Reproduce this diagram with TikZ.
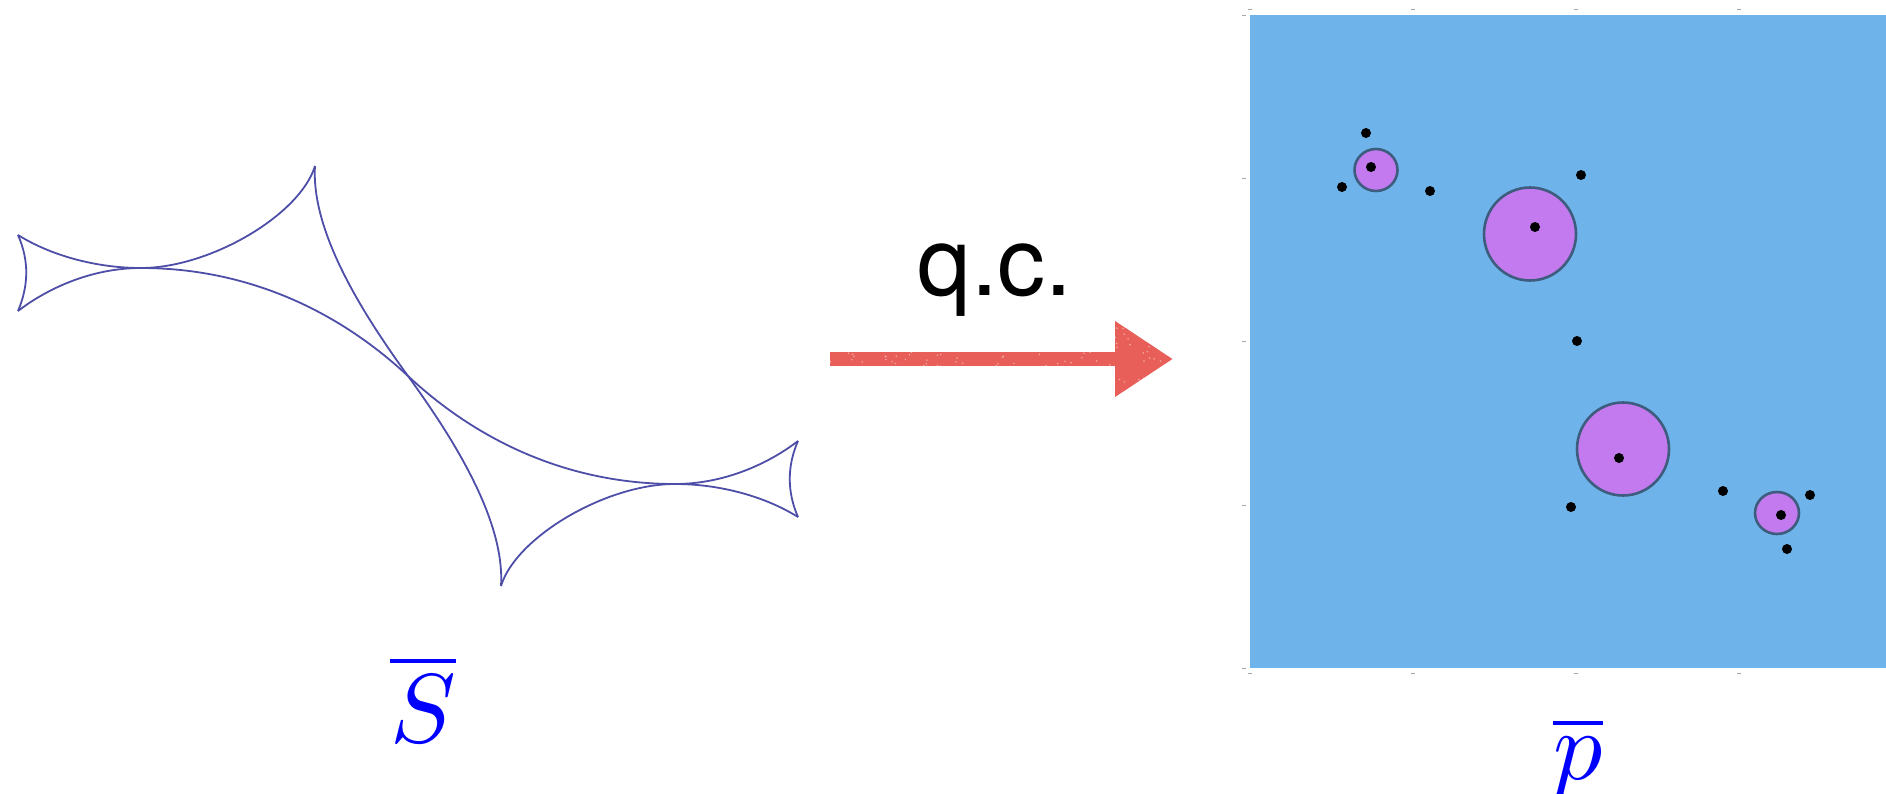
\documentclass[tikz,border=0pt]{standalone}
\usepackage{graphicx}
\usepackage{fontspec}
\newfontfamily\qcfont{TeX Gyre Heros}
\usetikzlibrary{arrows.meta}
\definecolor{curveblue}{RGB}{78,78,168}
\definecolor{planeblue}{RGB}{110,180,234}
\definecolor{diskpurple}{RGB}{194,122,238}
\definecolor{diskedge}{RGB}{62,92,126}
\definecolor{qcred}{RGB}{232,94,88}
\definecolor{labelblue}{RGB}{0,0,255}
\tikzset{
  sketchline/.style={draw=curveblue, line width=0.9pt},
  disk/.style={fill=diskpurple, draw=diskedge, line width=1.3pt},
  blackpt/.style={circle, fill=black, inner sep=0pt, minimum size=5pt},
  tickmark/.style={draw=black!35, line width=0.4pt},
  qcarrow/.style={draw=qcred, line width=7pt, -{Triangle[length=29pt,width=36pt]}},
  speck/.style={fill=white, opacity=0.45},
}
\begin{document}
\begin{tikzpicture}[x=0.5pt,y=-0.5pt]
\useasboundingbox (0,0) rectangle (1886,793);
\clip (0,0) rectangle (1886,793);

% ---- left curve figure ----
\draw[sketchline] (18,235) .. controls (50,255) and (95,268) .. (141,268)
  .. controls (210,268) and (300,215) .. (315,166);
\draw[sketchline] (315,166) .. controls (311,230) and (360,310) .. (408,376)
  .. controls (456,442) and (505,522) .. (501,586);
\draw[sketchline] (18,311) .. controls (48,288) and (92,268) .. (141,268)
  .. controls (241,268) and (333,306) .. (408,376)
  .. controls (483,446) and (575,484) .. (675,484)
  .. controls (724,484) and (768,464) .. (798,441);
\draw[sketchline] (798,517) .. controls (766,497) and (721,484) .. (675,484)
  .. controls (606,484) and (516,537) .. (501,586);
\draw[sketchline] (18,235) .. controls (29,260) and (29,285) .. (18,311);
\draw[sketchline] (798,441) .. controls (787,466) and (787,492) .. (798,517);

\node[anchor=base, text=labelblue, inner sep=0pt] (Slabel) at (423,742) {\scalebox{4.9}{$\overline{S}$}};

% ---- arrow ----
\node[anchor=base, inner sep=0pt] (qc) at (995,295) {\qcfont\fontsize{48}{56}\selectfont q.c.};
\coordinate (arrowstart) at (830,359);
\coordinate (arrowtip) at (1173,359);
\draw[qcarrow] (arrowstart) -- (arrowtip);
\pgfmathsetseed{4242}
\begin{scope}
  \clip (830,352) rectangle (1118,366) (1115,323) -- (1173,359) -- (1115,395) -- cycle;
  \foreach \i in {1,...,260} {
    \fill[speck] ({830+rnd*343},{322+rnd*74}) circle (0.9);
  }
\end{scope}

% ---- right plane ----
\fill[planeblue] (1250,15) rectangle (1886,668);
\foreach \x in {1250,1413,1576,1739} {
  \draw[tickmark] (\x-2,9) -- (\x+2,9);
  \draw[tickmark] (\x-2,673) -- (\x+2,673);
}
\foreach \y in {15,178,341,505,668} {
  \draw[tickmark] (1242,\y) -- (1246,\y);
}

\draw[disk] (1376,170) ellipse [x radius=21.5, y radius=21];
\draw[disk] (1530,234) ellipse [x radius=46, y radius=46.5];
\draw[disk] (1623,449) ellipse [x radius=46, y radius=46.5];
\draw[disk] (1777,513) ellipse [x radius=22, y radius=21];

\node[blackpt] (d1) at (1371,167) {};
\node[blackpt] (d2) at (1366,133) {};
\node[blackpt] (d3) at (1342,187) {};
\node[blackpt] (d4) at (1430,191) {};
\node[blackpt] (d5) at (1535,227) {};
\node[blackpt] (d6) at (1581,175) {};
\node[blackpt] (d7) at (1577,341) {};
\node[blackpt] (d8) at (1619,458) {};
\node[blackpt] (d9) at (1571,507) {};
\node[blackpt] (d10) at (1723,491) {};
\node[blackpt] (d11) at (1810,495) {};
\node[blackpt] (d12) at (1781,515) {};
\node[blackpt] (d13) at (1787,549) {};

\node[anchor=base, text=labelblue, inner sep=0pt] (plabel) at (1578,779) {\scalebox{4.9}{$\overline{p}$}};
\end{tikzpicture}
\end{document}
